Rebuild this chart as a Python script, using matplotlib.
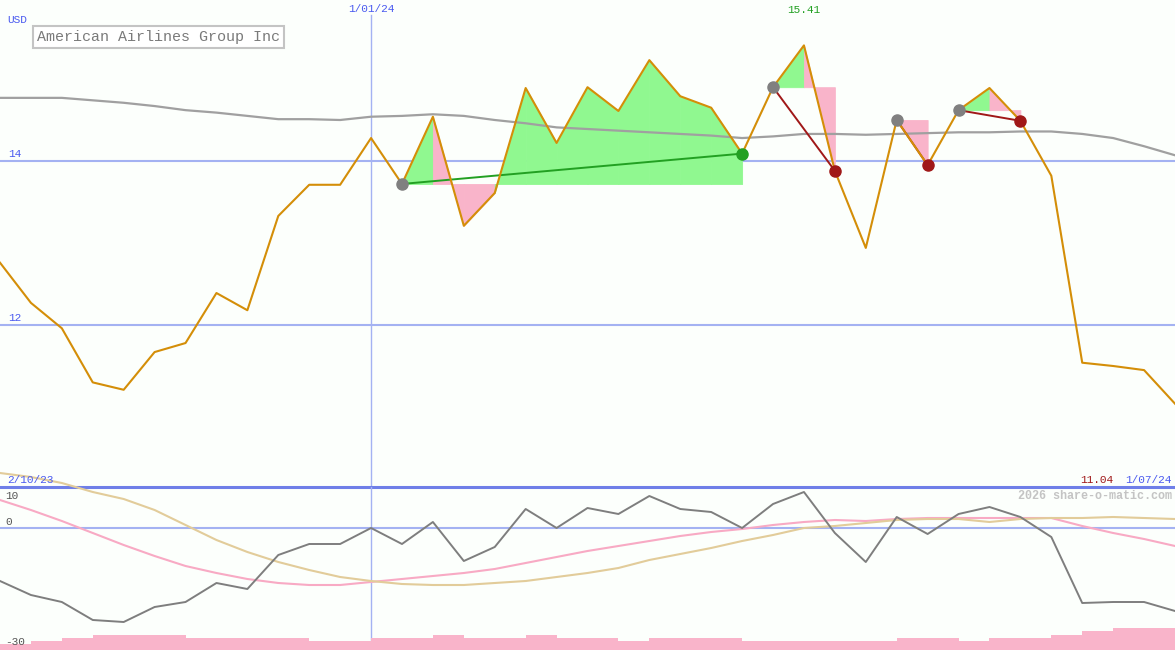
import matplotlib.pyplot as plt
import numpy as np

# weekly close, American Airlines Group Inc (USD)
price = [12.76, 12.27, 11.96, 11.30, 11.21, 11.67, 11.78, 12.39, 12.18, 13.33,
         13.71, 13.71, 14.28, 13.72, 14.54, 13.21, 13.61, 14.89, 14.22, 14.90,
         14.61, 15.23, 14.79, 14.65, 14.09, 14.90, 15.41, 13.88, 12.94, 14.50,
         13.95, 14.62, 14.89, 14.49, 13.82, 11.54, 11.50, 11.45, 11.04]
moving_avg = [14.77, 14.77, 14.77, 14.74, 14.71, 14.67, 14.62, 14.59, 14.55, 14.51,
              14.51, 14.50, 14.54, 14.55, 14.57, 14.55, 14.50, 14.46, 14.41, 14.39,
              14.37, 14.35, 14.33, 14.31, 14.28, 14.30, 14.33, 14.33, 14.32, 14.33,
              14.34, 14.35, 14.35, 14.36, 14.36, 14.33, 14.28, 14.18, 14.07]

# lower panel
momentum = [-13.25, -16.75, -18.5, -23, -23.5, -19.75, -18.5, -13.75, -15.25, -6.75,
            -4, -4, 0, -4, 1.5, -8.25, -4.75, 4.75, 0, 5,
            3.5, 8, 4.75, 4, 0, 6, 9, -1.25, -8.5, 2.75,
            -1.5, 3.5, 5.25, 2.75, -2.25, -18.75, -18.5, -18.5, -20.75]
slow_pink = [7, 4.5, 1.75, -1.25, -4.25, -7, -9.5, -11.25, -12.75, -13.75,
             -14.25, -14.25, -13.5, -12.75, -12, -11.25, -10.25, -8.75, -7.25, -5.75,
             -4.5, -3.25, -2, -1, -0.25, 0.75, 1.5, 2, 1.75, 2.25,
             2.5, 2.5, 2.5, 2.5, 2.5, 0.5, -1.25, -2.75, -4.5]
slow_tan = [13.75, 12.75, 11.25, 9, 7.25, 4.5, 0.75, -3, -6, -8.5,
            -10.5, -12.25, -13.25, -14, -14.25, -14.25, -13.75, -13.25, -12.25, -11.25,
            -10, -8, -6.5, -5, -3.25, -1.75, 0, 0.5, 1.25, 2,
            2.25, 2.25, 1.5, 2.25, 2.5, 2.5, 2.75, 2.5, 2.25]
volume = [2, 3, 4, 5, 5, 5, 4, 4, 4, 4, 3, 3, 4, 4, 5, 4, 4, 5, 4, 4,
          3, 4, 4, 4, 3, 3, 3, 3, 3, 4, 4, 3, 4, 4, 5, 6.3, 7.3, 7.3]

# trades: entry index, exit index
trades = [(13, 24), (25, 27), (29, 30), (31, 33)]

start_label = '2/10/23'
mid_label = '1/01/24'
mid_idx = 12
end_label = '1/07/24'

BG = '#fcfffc'
GRID = '#a4b2f2'
BLUE_TXT = '#4a5af0'
ORANGE = '#d48e08'
GAIN = '#90f890'
LOSS = '#f9b4ca'
WIN_LINE = '#22a022'
LOSS_LINE = '#a01818'
MONO = 'Liberation Mono'

W, H = 1175, 650
fig = plt.figure(figsize=(W / 100, H / 100), dpi=100, facecolor=BG)

split = 487  # pixel row of the panel divider
ax = fig.add_axes([0, (H - split) / H, 1, split / H])
axb = fig.add_axes([0, 0, 1, (H - split) / H])
axv = axb.twinx()
axv.set_position(axb.get_position())
for a in (ax, axb, axv):
    a.set_facecolor('none')
    a.axis('off')

x = np.arange(len(price))
n = len(price) - 1

# --- main panel ---
ax.set_xlim(0, n)
ax.set_ylim(14 - (split - 161) / 82, 14 + 161 / 82)
for lvl in (14, 12):
    ax.axhline(lvl, color=GRID, lw=1.5, zorder=1)
    ax.text(0.25, lvl + 0.02, str(lvl), color=BLUE_TXT, fontsize=8,
            family=MONO, va='bottom', ha='left')
ax.axvline(mid_idx, ymax=1 - 15 / split, color=GRID, lw=1, zorder=1)

for s, e in trades:
    base = price[s]
    for i in range(s, e):
        col = GAIN if price[i + 1] > base else LOSS
        ax.fill_between([i, i + 1], [price[i], price[i + 1]], base,
                        facecolor=col, edgecolor=col, lw=0.6, zorder=2)

ax.plot(x, moving_avg, color='#a0a0a0', lw=1.6, zorder=3)

for s, e in trades:
    won = price[e] > price[s]
    lc = WIN_LINE if won else LOSS_LINE
    ax.plot([s, e], [price[s], price[e]], color=lc, lw=1.4, zorder=4)

ax.plot(x, price, color=ORANGE, lw=1.5, zorder=5)

for s, e in trades:
    won = price[e] > price[s]
    ax.plot(s, price[s], 'o', color='#808080', ms=8, zorder=6)
    ax.plot(e, price[e], 'o', color=WIN_LINE if won else LOSS_LINE, ms=8, zorder=6)

hi = int(np.argmax(price))
ax.annotate(f'{price[hi]:.2f}', (hi, price[hi]), xytext=(0, 22),
            textcoords='offset points', ha='center', va='bottom',
            color=WIN_LINE, fontsize=8, family=MONO)

fig.text(7 / W, 1 - 20 / H, 'USD', color=BLUE_TXT, fontsize=8,
         family=MONO, va='center', ha='left')
fig.text(mid_idx / n, 1 - 9 / H, mid_label, color=BLUE_TXT, fontsize=8,
         family=MONO, va='center', ha='center')
fig.text(37 / W, 1 - 37 / H, 'American Airlines Group Inc', color='#7a7a7a',
         fontsize=10.8, family=MONO, va='center', ha='left',
         bbox=dict(boxstyle='square,pad=0.25', fc='white', ec='#c4c4c4', lw=1.5))

# --- lower panel ---
axb.set_xlim(0, n)
axb.set_ylim((528 - H) / 4, (528 - split) / 4)
axb.axhline(0, color=GRID, lw=1.5, zorder=1)
axb.axhline((528 - split) / 4, color='#6f7fe8', lw=2.2, zorder=1, clip_on=False)
axb.axvline(mid_idx, color=GRID, lw=1, zorder=1)
axb.plot(x, slow_pink, color='#f8aac4', lw=1.5, zorder=3)
axb.plot(x, slow_tan, color='#e2cc9a', lw=1.5, zorder=3, clip_on=False)
axb.plot(x, momentum, color='#7e7e7e', lw=1.4, zorder=4)

axv.set_xlim(0, n)
axv.set_ylim(0, (H - split) / 3)
axv.bar(x[:-1], volume, width=1.0, align='edge', color=LOSS, lw=0,
        antialiased=False, zorder=2)

fig.text(7 / W, 1 - 480 / H, start_label, color=BLUE_TXT, fontsize=8,
         family=MONO, va='center', ha='left')
fig.text(1172 / W, 1 - 480 / H, end_label, color=BLUE_TXT, fontsize=8,
         family=MONO, va='center', ha='right')
fig.text(1113 / W, 1 - 480 / H, f'{price[-1]:.2f}', color=LOSS_LINE,
         fontsize=8, family=MONO, va='center', ha='right')
fig.text(1172 / W, 1 - 496 / H, '2026 share-o-matic.com', color='#c4c4c4',
         fontsize=8.5, family=MONO, weight='bold', va='center', ha='right')
for lab, yy in (('10', 496), ('0', 522), ('-30', 642)):
    fig.text(5 / W, 1 - yy / H, lab, color='#555555', fontsize=8,
             family=MONO, va='center', ha='left')

fig.savefig('out.png', dpi=100, facecolor=BG)
